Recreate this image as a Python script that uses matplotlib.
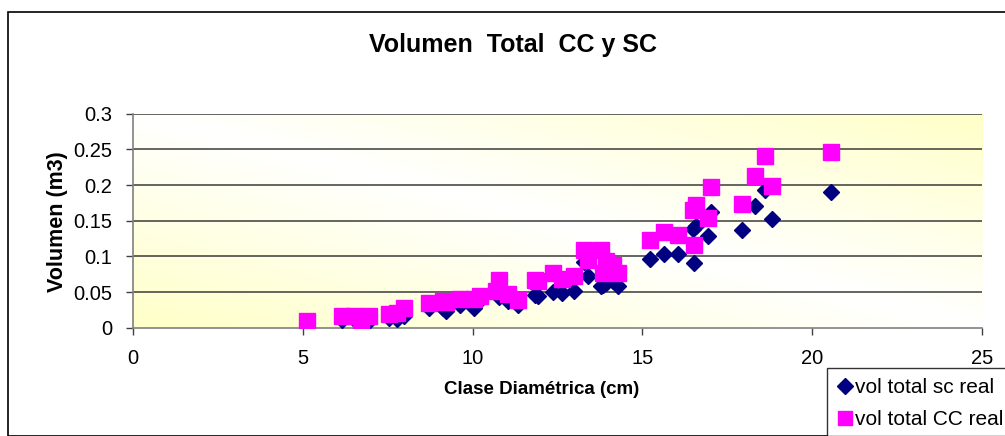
import numpy as np
import matplotlib
matplotlib.use("Agg")
import matplotlib.pyplot as plt
from matplotlib.patches import Rectangle
from matplotlib.lines import Line2D

plt.rcParams['font.family'] = ['Liberation Sans', 'DejaVu Sans']

# Diameter class (cm) per tree, with total volume without bark (sc) and with bark (CC)
diametro = [5.12, 6.16, 6.50, 6.72, 6.94, 7.53, 7.78, 7.98, 8.72, 9.13,
            9.23, 9.63, 10.04, 10.23, 10.68, 10.78, 11.03, 11.33, 11.83, 11.93,
            12.38, 12.63, 13.00, 13.28, 13.40, 13.79, 13.94, 14.14, 13.84, 14.28,
            15.23, 15.63, 16.06, 16.50, 16.53, 16.58, 16.93, 17.03, 17.93, 18.32,
            18.62, 18.83, 20.54]
vol_sc = [0.005, 0.011, 0.012, 0.003, 0.010, 0.013, 0.012, 0.017, 0.028, 0.027,
          0.024, 0.032, 0.028, 0.039, 0.049, 0.043, 0.038, 0.032, 0.046, 0.044,
          0.050, 0.048, 0.052, 0.092, 0.072, 0.058, 0.062, 0.065, 0.060, 0.058,
          0.097, 0.103, 0.104, 0.139, 0.090, 0.143, 0.128, 0.162, 0.137, 0.170,
          0.193, 0.153, 0.190]
vol_cc = [0.009, 0.016, 0.017, 0.006, 0.016, 0.019, 0.021, 0.027, 0.035, 0.038,
          0.036, 0.040, 0.040, 0.045, 0.052, 0.067, 0.047, 0.039, 0.067, 0.065,
          0.076, 0.068, 0.072, 0.109, 0.095, 0.109, 0.093, 0.088, 0.076, 0.076,
          0.123, 0.134, 0.130, 0.165, 0.116, 0.172, 0.154, 0.197, 0.174, 0.212,
          0.240, 0.198, 0.246]

x_ticks = [0, 5, 10, 15, 20, 25]
y_ticks = [0, 0.05, 0.1, 0.15, 0.2, 0.25, 0.3]
y_tick_labels = ["0", "0.05", "0.1", "0.15", "0.2", "0.25", "0.3"]

W, H = 1005, 436
fig = plt.figure(figsize=(W / 100, H / 100), dpi=100)
fig.patch.set_facecolor('white')

# chart frame
fig.patches.append(Rectangle((8 / W, 0), 1.2, 1 - 12 / H, transform=fig.transFigure,
                             fill=False, edgecolor='black', linewidth=1.2, clip_on=False))

ax = fig.add_axes([133 / W, 1 - 327.7 / H, 849 / W, 214 / H])
ax.set_xlim(0, 25)
ax.set_ylim(0, 0.3)

# plot-area fill: pale yellow at two opposite corners, white along the other diagonal
n = 300
u = np.linspace(0, 1, n)
U, V = np.meshgrid(u, u)
t = np.clip(np.abs(U + V - 1), 0, 1)
yellow = np.array([255, 255, 200]) / 255
white = np.array([1.0, 1.0, 1.0])
img = white[None, None, :] * (1 - t[..., None]) + yellow[None, None, :] * t[..., None]
ax.imshow(img, extent=[0, 25, 0, 0.3], origin='lower', aspect='auto', zorder=0,
          interpolation='bilinear')

for yv in y_ticks[1:]:
    ax.axhline(yv, color='#3a3a3a', linewidth=1.1, zorder=1)

ax.plot(diametro, vol_sc, linestyle='none', marker='D', markersize=8.2,
        markerfacecolor='#000080', markeredgecolor='#000080', zorder=3)
ax.plot(diametro, vol_cc, linestyle='none', marker='s', markersize=11,
        markerfacecolor='#FF00FF', markeredgecolor='#FF00FF', zorder=4)

for side in ['top', 'right']:
    ax.spines[side].set_visible(False)
for side in ['left', 'bottom']:
    ax.spines[side].set_color('#808080')
    ax.spines[side].set_linewidth(1.2)

ax.set_xticks(x_ticks)
ax.set_yticks(y_ticks)
ax.set_yticklabels(y_tick_labels)
ax.tick_params(axis='both', direction='out', length=5, width=1, color='#404040',
               labelsize=14.5, pad=10)
ax.tick_params(axis='x', pad=10)

fig.text(513 / W, 1 - 45 / H, "Volumen  Total  CC y SC", ha='center', va='center',
         fontsize=18, fontweight='bold')
fig.text(542 / W, 1 - 389 / H, "Clase Diamétrica (cm)", ha='center', va='center',
         fontsize=13.5, fontweight='bold')
fig.text(57 / W, 1 - 222 / H, "Volumen (m3)", ha='center', va='center',
         rotation=90, fontsize=15.5, fontweight='bold')

handles = [
    Line2D([], [], linestyle='none', marker='D', markersize=8.2,
           markerfacecolor='#000080', markeredgecolor='#000080'),
    Line2D([], [], linestyle='none', marker='s', markersize=10.5,
           markerfacecolor='#FF00FF', markeredgecolor='#FF00FF'),
]
leg = fig.legend(handles, ["vol total sc real", "vol total CC real"],
                 loc='upper left', bbox_to_anchor=(827 / W, 1 - 368 / H),
                 borderaxespad=0, fontsize=15, frameon=True, fancybox=False,
                 edgecolor='black', handlelength=0.7, handletextpad=0.15,
                 labelspacing=0.6, borderpad=0.5)
leg.get_frame().set_linewidth(1.0)

fig.savefig('out.png', dpi=100)
